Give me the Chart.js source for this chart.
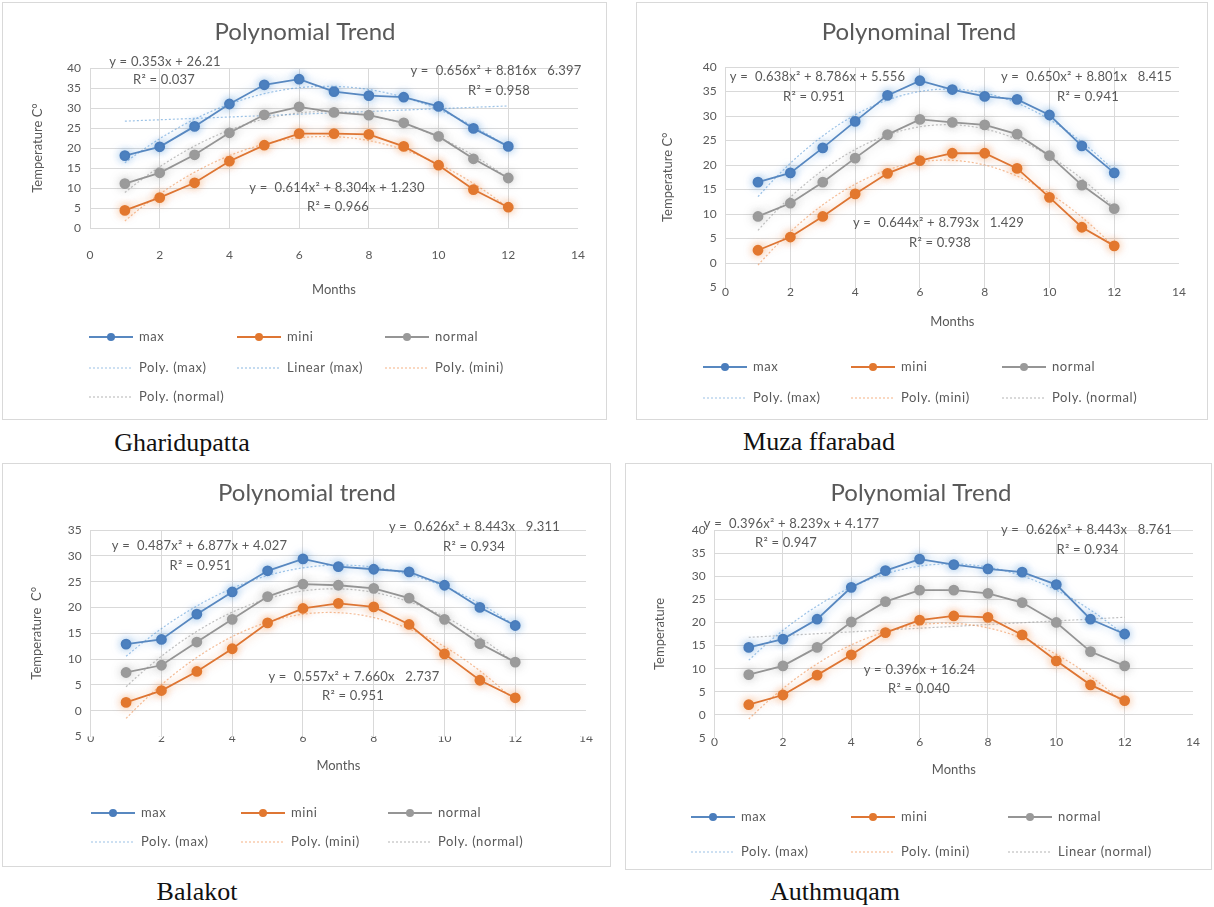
<!DOCTYPE html>
<html>
<head>
<meta charset="utf-8">
<title>Monthly temperature – polynomial trends</title>
<script src="https://cdn.jsdelivr.net/npm/chart.js@4/dist/chart.umd.min.js"></script>
<style>
  html, body { margin: 0; padding: 0; background: #fff; }
  body { position: relative; width: 1214px; height: 907px; overflow: hidden; }
  canvas.panel { position: absolute; outline: 1px solid #d9d9d9; }
  .caption {
    position: absolute; transform: translate(-50%, -50%);
    font-family: "Liberation Serif", "Times New Roman", serif;
    font-size: 26px; color: #111; white-space: nowrap;
  }
</style>
</head>
<body>
<canvas id="chartGharidupatta" class="panel" width="603" height="416" style="left:3px;top:3px"></canvas>
<canvas id="chartMuzaffarabad" class="panel" width="570" height="416" style="left:637px;top:3px"></canvas>
<canvas id="chartBalakot" class="panel" width="607" height="402" style="left:3px;top:464px"></canvas>
<canvas id="chartAuthmuqam" class="panel" width="585" height="405" style="left:626px;top:464px"></canvas>

<div class="caption" style="left:182px;top:443px">Gharidupatta</div>
<div class="caption" style="left:819px;top:442px">Muza ffarabad</div>
<div class="caption" style="left:197px;top:892px">Balakot</div>
<div class="caption" style="left:835px;top:892px">Authmuqam</div>

<script>
// ---- data: monthly temperatures (°C) per station ----
const months = [1, 2, 3, 4, 5, 6, 7, 8, 9, 10, 11, 12];

const gharidupattaMax    = [18.1, 20.3, 25.4, 31.0, 35.8, 37.2, 34.1, 33.1, 32.7, 30.4, 24.9, 20.4];
const gharidupattaMini   = [4.4, 7.6, 11.3, 16.7, 20.7, 23.6, 23.6, 23.4, 20.4, 15.7, 9.6, 5.2];
const gharidupattaNormal = [11.1, 13.8, 18.3, 23.8, 28.3, 30.3, 28.9, 28.2, 26.3, 22.9, 17.3, 12.5];

const muzaffarabadMax    = [16.5, 18.4, 23.5, 28.9, 34.2, 37.2, 35.4, 34.0, 33.4, 30.2, 23.9, 18.4];
const muzaffarabadMini   = [2.6, 5.3, 9.5, 14.1, 18.3, 20.9, 22.4, 22.4, 19.3, 13.4, 7.3, 3.5];
const muzaffarabadNormal = [9.5, 12.2, 16.5, 21.4, 26.2, 29.3, 28.7, 28.2, 26.3, 21.9, 15.9, 11.1];

const balakotMax    = [12.9, 13.8, 18.7, 23.0, 27.1, 29.4, 27.9, 27.4, 26.9, 24.3, 20.0, 16.5];
const balakotMini   = [1.6, 3.9, 7.6, 12.0, 17.0, 19.8, 20.8, 20.1, 16.7, 11.0, 5.9, 2.5];
const balakotNormal = [7.4, 8.8, 13.3, 17.7, 22.1, 24.5, 24.3, 23.7, 21.8, 17.7, 13.0, 9.4];

const authmuqamMax    = [14.6, 16.4, 20.7, 27.6, 31.2, 33.7, 32.5, 31.6, 30.9, 28.2, 20.7, 17.5];
const authmuqamMini   = [2.2, 4.3, 8.6, 13.0, 17.8, 20.5, 21.4, 21.1, 17.3, 11.7, 6.5, 3.1];
const authmuqamNormal = [8.7, 10.6, 14.6, 20.1, 24.5, 27.0, 27.0, 26.3, 24.3, 20.0, 13.7, 10.6];

// ---- tick values and their printed labels ----
const monthTicks = [0, 2, 4, 6, 8, 10, 12, 14];
const tempTicks0to40    = [0, 5, 10, 15, 20, 25, 30, 35, 40];
const tempLabels0to40   = ['0', '5', '10', '15', '20', '25', '30', '35', '40'];
const tempTicksM5to40   = [-5, 0, 5, 10, 15, 20, 25, 30, 35, 40];
const tempLabelsM5to40  = ['5', '0', '5', '10', '15', '20', '25', '30', '35', '40'];
const tempTicksM5to35   = [-5, 0, 5, 10, 15, 20, 25, 30, 35];
const tempLabelsM5to35  = ['5', '0', '5', '10', '15', '20', '25', '30', '35'];

// ---- trendline equation texts printed on each plot ----
const gharidupattaEquations = [
  ['y = 0.353x + 26.21', 'R² = 0.037'],
  ['y =  0.656x² + 8.816x   6.397', 'R² = 0.958'],
  ['y =  0.614x² + 8.304x + 1.230', 'R² = 0.966']
];
const muzaffarabadEquations = [
  ['y =  0.638x² + 8.786x + 5.556', 'R² = 0.951'],
  ['y =  0.650x² + 8.801x   8.415', 'R² = 0.941'],
  ['y =  0.644x² + 8.793x   1.429', 'R² = 0.938']
];
const balakotEquations = [
  ['y =  0.626x² + 8.443x   9.311', 'R² = 0.934'],
  ['y =  0.487x² + 6.877x + 4.027', 'R² = 0.951'],
  ['y =  0.557x² + 7.660x   2.737', 'R² = 0.951']
];
const authmuqamEquations = [
  ['y =  0.396x² + 8.239x + 4.177', 'R² = 0.947'],
  ['y =  0.626x² + 8.443x   8.761', 'R² = 0.934'],
  ['y = 0.396x + 16.24', 'R² = 0.040']
];

// ---- colours ----
const BLUE = '#5888c0', BLUE_PT = '#4a7dbc';
const ORANGE = '#de7634', ORANGE_PT = '#e2782f';
const GREY = '#959595', GREY_PT = '#9a9a9a';
const TEXT = '#595959';
const FONT = 'Lato, "Open Sans", sans-serif';

// least-squares polynomial fit, returns coefficients c0..cdeg
function polyFit(xs, ys, deg) {
  const n = deg + 1;
  const A = Array.from({ length: n }, () => new Array(n + 1).fill(0));
  for (let k = 0; k < xs.length; k++) {
    for (let i = 0; i < n; i++) {
      for (let j = 0; j < n; j++) A[i][j] += Math.pow(xs[k], i + j);
      A[i][n] += ys[k] * Math.pow(xs[k], i);
    }
  }
  for (let i = 0; i < n; i++) {
    let p = i;
    for (let r = i + 1; r < n; r++) if (Math.abs(A[r][i]) > Math.abs(A[p][i])) p = r;
    [A[i], A[p]] = [A[p], A[i]];
    for (let r = 0; r < n; r++) {
      if (r === i) continue;
      const f = A[r][i] / A[i][i];
      for (let c = i; c <= n; c++) A[r][c] -= f * A[i][c];
    }
  }
  return A.map((row, i) => row[n] / row[i]);
}

// points along the fitted trend curve over the month range
function trendCurve(xs, ys, deg) {
  const c = polyFit(xs, ys, deg);
  const pts = [];
  for (let x = xs[0]; x <= xs[xs.length - 1] + 1e-9; x += 0.25) {
    pts.push({ x: x, y: c.reduce((s, ci, i) => s + ci * Math.pow(x, i), 0) });
  }
  return pts;
}

function seriesSet(label, values, line, point, glow) {
  return {
    label, kind: 'series',
    data: months.map((m, i) => ({ x: m, y: values[i] })),
    borderColor: line, backgroundColor: point,
    pointBackgroundColor: point, pointBorderColor: point,
    pointRadius: 4.5, pointHoverRadius: 4.5, borderWidth: 1.8,
    glow, order: 0
  };
}
function trendSet(label, values, deg, color) {
  return {
    label, kind: 'trend',
    data: trendCurve(months, values, deg),
    borderColor: color, borderWidth: 1.2, borderDash: [2, 2],
    pointRadius: 0, order: 1
  };
}

// draws the soft halo around the measured series
const seriesGlow = {
  id: 'seriesGlow',
  beforeDatasetDraw(chart, args) {
    const ds = chart.data.datasets[args.index];
    if (!ds.glow) return;
    chart.ctx.save();
    chart.ctx.shadowColor = ds.glow;
    chart.ctx.shadowBlur = 8;
  },
  afterDatasetDraw(chart, args) {
    const ds = chart.data.datasets[args.index];
    if (ds.glow) chart.ctx.restore();
  }
};

// title, equation notes and the three-column legend of each panel
const panelDecor = {
  id: 'panelDecor',
  afterDraw(chart, args, o) {
    const ctx = chart.ctx;
    ctx.save();
    ctx.fillStyle = TEXT;
    ctx.textAlign = 'center';
    ctx.textBaseline = 'middle';
    ctx.font = '24px ' + FONT;
    ctx.fillText(o.title, o.titleX, o.titleY);

    ctx.font = '13px ' + FONT;
    ctx.letterSpacing = '0.2px';
    o.equations.forEach((pair, i) => {
      const p = o.notePos[i];
      ctx.fillText(pair[0], p[0], p[1]);
      ctx.fillText(pair[1], p[2], p[3]);
    });

    ctx.textAlign = 'left';
    ctx.letterSpacing = '0.6px';
    o.legendOrder.forEach((dsIndex, k) => {
      const ds = chart.data.datasets[dsIndex];
      const cx = o.legendCols[k % 3];
      const cy = o.legendRows[Math.floor(k / 3)];
      ctx.save();
      ctx.strokeStyle = ds.borderColor;
      if (ds.kind === 'trend') {
        ctx.lineWidth = 1.2;
        ctx.setLineDash([2, 2]);
      } else {
        ctx.lineWidth = 1.8;
      }
      ctx.beginPath();
      ctx.moveTo(cx - 22, cy);
      ctx.lineTo(cx + 22, cy);
      ctx.stroke();
      if (ds.kind === 'series') {
        ctx.fillStyle = ds.pointBackgroundColor;
        ctx.beginPath();
        ctx.arc(cx, cy, 4, 0, Math.PI * 2);
        ctx.fill();
      }
      ctx.restore();
      ctx.fillText(ds.label, cx + 28, cy);
    });
    ctx.restore();
  }
};

function buildChart(id, frame, yTicks, yLabels, yTitle, datasets, deco) {
  const canvas = document.getElementById(id);
  const W = canvas.width, H = canvas.height;
  const a = frame.area;
  const yMin = yTicks[0], yMax = yTicks[yTicks.length - 1];
  return new Chart(canvas, {
    type: 'line',
    data: { datasets },
    options: {
      responsive: false,
      animation: false,
      devicePixelRatio: 1,
      layout: { padding: { left: 0, top: a.t, right: W - a.r, bottom: 0 } },
      plugins: {
        legend: { display: false },
        tooltip: { enabled: false },
        panelDecor: deco
      },
      scales: {
        x: {
          type: 'linear', min: 0, max: 14,
          afterBuildTicks: s => { s.ticks = monthTicks.map(v => ({ value: v })); },
          afterFit: s => { s.height = H - a.b; },
          ticks: { color: TEXT, font: { family: FONT, size: 12 }, padding: frame.xTickY - a.b - 7.2 },
          grid: {
            drawTicks: false,
            color: c => (c.tick && c.tick.value === 14) ? 'rgba(0,0,0,0)' : '#d9d9d9'
          },
          border: { display: false },
          title: {
            display: true, text: 'Months', color: TEXT,
            font: { family: FONT, size: 13 },
            padding: { top: 0, bottom: H - frame.monthsY - 7.8 }
          }
        },
        y: {
          type: 'linear', min: yMin, max: yMax,
          afterBuildTicks: s => { s.ticks = yTicks.map(v => ({ value: v })); },
          afterFit: s => { s.width = a.l; },
          ticks: {
            color: TEXT, font: { family: FONT, size: 12 }, padding: 9,
            callback: v => yLabels[yTicks.indexOf(v)]
          },
          grid: {
            drawTicks: false,
            color: c => (c.tick && c.tick.value === yMin && yMin < 0) ? 'rgba(0,0,0,0)' : '#d9d9d9'
          },
          border: { display: true, color: '#d9d9d9' },
          title: {
            display: true, text: yTitle, color: TEXT,
            font: { family: FONT, size: 13 },
            padding: { top: frame.yTitleX - 7.8, bottom: 0 }
          }
        }
      }
    },
    plugins: [seriesGlow, panelDecor]
  });
}

const GLOW_BLUE = 'rgba(91,155,213,0.6)';
const GLOW_ORANGE = 'rgba(237,125,49,0.5)';
const GLOW_GREY = 'rgba(165,165,165,0.5)';
const TREND_BLUE = 'rgba(91,155,213,0.6)';
const TREND_ORANGE = 'rgba(237,125,49,0.5)';
const TREND_GREY = 'rgba(150,150,150,0.6)';

// ---- Gharidupatta ----
buildChart('chartGharidupatta',
  { area: { l: 87, r: 575, t: 65, b: 225 }, yTitleX: 35, xTickY: 252, monthsY: 287 },
  tempTicks0to40, tempLabels0to40, 'Temperature C°',
  [
    seriesSet('max', gharidupattaMax, BLUE, BLUE_PT, GLOW_BLUE),
    seriesSet('mini', gharidupattaMini, ORANGE, ORANGE_PT, GLOW_ORANGE),
    seriesSet('normal', gharidupattaNormal, GREY, GREY_PT, GLOW_GREY),
    trendSet('Poly. (max)', gharidupattaMax, 2, TREND_BLUE),
    trendSet('Linear (max)', gharidupattaMax, 1, TREND_BLUE),
    trendSet('Poly. (mini)', gharidupattaMini, 2, TREND_ORANGE),
    trendSet('Poly. (normal)', gharidupattaNormal, 2, TREND_GREY)
  ],
  {
    title: 'Polynomial Trend', titleX: 302, titleY: 29,
    equations: gharidupattaEquations,
    notePos: [[162, 59, 161, 77], [493, 68, 496, 88], [334, 185, 335, 204]],
    legendOrder: [0, 1, 2, 3, 4, 5, 6],
    legendCols: [108, 256, 404], legendRows: [334, 365, 394]
  });

// ---- Muzaffarabad ----
buildChart('chartMuzaffarabad',
  { area: { l: 88.6, r: 542, t: 64, b: 284.5 }, yTitleX: 31, xTickY: 289, monthsY: 319 },
  tempTicksM5to40, tempLabelsM5to40, 'Temperature C°',
  [
    seriesSet('max', muzaffarabadMax, BLUE, BLUE_PT, GLOW_BLUE),
    seriesSet('mini', muzaffarabadMini, ORANGE, ORANGE_PT, GLOW_ORANGE),
    seriesSet('normal', muzaffarabadNormal, GREY, GREY_PT, GLOW_GREY),
    trendSet('Poly. (max)', muzaffarabadMax, 2, TREND_BLUE),
    trendSet('Poly. (mini)', muzaffarabadMini, 2, TREND_ORANGE),
    trendSet('Poly. (normal)', muzaffarabadNormal, 2, TREND_GREY)
  ],
  {
    title: 'Polynominal Trend', titleX: 282, titleY: 29,
    equations: muzaffarabadEquations,
    notePos: [[180.5, 74, 177, 94], [449.5, 74, 451, 94], [301.5, 220, 303, 240]],
    legendOrder: [0, 1, 2, 3, 4, 5],
    legendCols: [88, 236, 387], legendRows: [364, 395]
  });

// ---- Balakot ----
buildChart('chartBalakot',
  { area: { l: 87.7, r: 583, t: 66, b: 272.5 }, yTitleX: 34, xTickY: 274, monthsY: 302 },
  tempTicksM5to35, tempLabelsM5to35, 'Temperature  C°',
  [
    seriesSet('max', balakotMax, BLUE, BLUE_PT, GLOW_BLUE),
    seriesSet('mini', balakotMini, ORANGE, ORANGE_PT, GLOW_ORANGE),
    seriesSet('normal', balakotNormal, GREY, GREY_PT, GLOW_GREY),
    trendSet('Poly. (max)', balakotMax, 2, TREND_BLUE),
    trendSet('Poly. (mini)', balakotMini, 2, TREND_ORANGE),
    trendSet('Poly. (normal)', balakotNormal, 2, TREND_GREY)
  ],
  {
    title: 'Polynomial trend', titleX: 304, titleY: 29,
    equations: balakotEquations,
    notePos: [[471.5, 63, 471, 83], [196.5, 82, 197.5, 102], [351, 213, 350, 232]],
    legendOrder: [0, 1, 2, 3, 4, 5],
    legendCols: [110, 260, 407], legendRows: [349, 378]
  });

// ---- Authmuqam ----
buildChart('chartAuthmuqam',
  { area: { l: 88.6, r: 567, t: 66, b: 274 }, yTitleX: 34, xTickY: 278, monthsY: 306 },
  tempTicksM5to40, tempLabelsM5to40, 'Temperature',
  [
    seriesSet('max', authmuqamMax, BLUE, BLUE_PT, GLOW_BLUE),
    seriesSet('mini', authmuqamMini, ORANGE, ORANGE_PT, GLOW_ORANGE),
    seriesSet('normal', authmuqamNormal, GREY, GREY_PT, GLOW_GREY),
    trendSet('Poly. (max)', authmuqamMax, 2, TREND_BLUE),
    trendSet('Poly. (mini)', authmuqamMini, 2, TREND_ORANGE),
    trendSet('Linear (normal)', authmuqamNormal, 1, TREND_GREY)
  ],
  {
    title: 'Polynomial Trend', titleX: 295, titleY: 29,
    equations: authmuqamEquations,
    notePos: [[165.5, 60, 160, 79], [460.5, 66, 461.5, 86], [293.5, 206, 293, 225]],
    legendOrder: [0, 1, 2, 3, 4, 5],
    legendCols: [87, 247, 404], legendRows: [353, 388]
  });
</script>
</body>
</html>
